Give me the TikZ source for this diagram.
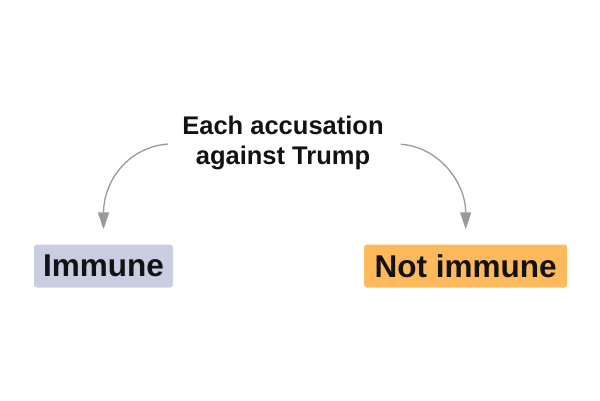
\documentclass[tikz,border=0pt]{standalone}
\usepackage{fontspec}
\setmainfont{Liberation Sans}
\usetikzlibrary{arrows.meta}
\definecolor{plotcolor0001}{RGB}{18,18,18}
\definecolor{plotcolor0002}{RGB}{153,153,153}
\definecolor{plotcolor0003}{RGB}{200,205,226}
\definecolor{plotcolor0004}{RGB}{253,185,91}
\begin{document}
\begin{tikzpicture}[yscale=-1
,pstyle0/.style={color=plotcolor0002,line width=1.3pt,-{Triangle[length=17pt,width=11pt]}}
,pstyle1/.style={text=plotcolor0001,inner sep=0pt,align=center,font=\fontsize{25.5pt}{30pt}\selectfont\bfseries}
,pstyle2/.style={text=plotcolor0001,rounded corners=3pt,minimum height=43pt,inner sep=0pt,font=\fontsize{31.5pt}{36pt}\selectfont\bfseries}
]
\useasboundingbox (0pt,0pt) rectangle (600pt,400pt);
\node[pstyle1] (title) at (283pt,143pt) {Each accusation\\against Trump};
\node[pstyle2,fill=plotcolor0003,minimum width=139pt] (immune) at (103.5pt,266pt) {Immune};
\node[pstyle2,fill=plotcolor0004,minimum width=203pt] (notimmune) at (465.7pt,266pt) {Not immune};
\draw[pstyle0,shorten <=14pt,shorten >=15pt] (title.west) .. controls +(-55pt,4pt) and +(0pt,-62pt) .. (immune.north);
\draw[pstyle0,shorten <=17pt,shorten >=15pt] (title.east) .. controls +(55pt,4pt) and +(0pt,-62pt) .. (notimmune.north);
\end{tikzpicture}
\end{document}
